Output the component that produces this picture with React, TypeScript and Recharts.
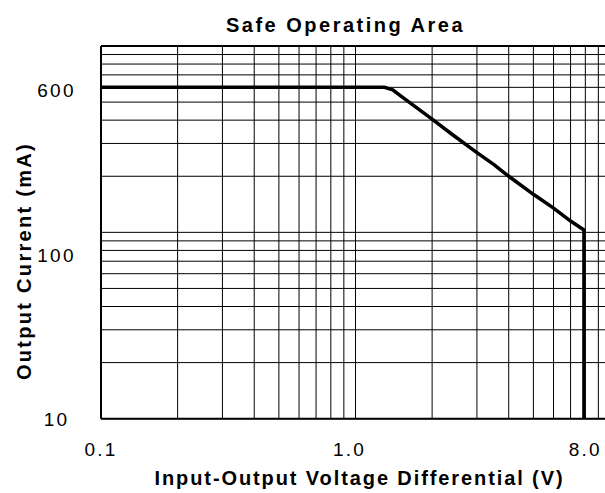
import React from 'react'
import {
  LineChart,
  Line,
  XAxis,
  YAxis,
  CartesianGrid,
  ReferenceLine,
} from 'recharts'

// (log-log)
const voltage = [0.1, 1.3, 1.4, 1.5, 1.7, 2.0, 2.4, 3.0, 3.5, 4.0, 5.0, 6.0, 7.0, 7.9, 7.9]
const current = [600, 600, 582, 541, 477, 405, 335, 268, 231, 200, 160, 135, 115, 103, 10]

const xGrid = [0.1, 0.2, 0.3, 0.4, 0.5, 0.6, 0.7, 0.8, 0.9, 1, 2, 3, 4, 5, 6, 7, 8, 9, 10]
const yGrid = [10, 20, 30, 40, 50, 60, 70, 80, 90, 100, 200, 300, 400, 500, 600, 700, 800, 900, 1000]
const xLabels: Record<number, string> = { 0.1: '0.1', 1: '1.0', 8: '8.0' }
const yLabels: Record<number, string> = { 10: '10', 100: '100', 600: '600' }

const data = voltage.map((v, i) => ({ v, i: current[i] }))

const FONT = '"Liberation Sans", Arial, sans-serif'

function XTick(props: any) {
  const { x, y, payload } = props
  const label = xLabels[payload.value]
  if (!label) return null
  const dx = payload.value === 1 ? -6 : 0
  return (
    <text x={x + dx} y={y + 31} textAnchor="middle" dominantBaseline="central"
      fontFamily={FONT} fontSize={19} letterSpacing={2.2} fill="#000">
      {label}
    </text>
  )
}

function YTick(props: any) {
  const { x, y, payload } = props
  const label = yLabels[payload.value]
  if (!label) return null
  // the source chart prints "100" a little below its grid line
  const dy = payload.value === 100 ? 23 : payload.value === 600 ? 3 : 1
  return (
    <text x={x - 44.5} y={y + dy} textAnchor="middle" dominantBaseline="central"
      fontFamily={FONT} fontSize={19} letterSpacing={2.2} fill="#000">
      {label}
    </text>
  )
}

export default function App() {
  return (
    <div style={{ position: 'absolute', left: 0, top: 0, width: 605, height: 493, overflow: 'hidden', background: '#fff' }}>
      <div style={{
        position: 'absolute', left: 91, width: 509, top: 11, textAlign: 'center',
        fontFamily: FONT, fontWeight: 'bold', fontSize: 20, letterSpacing: 2.5, lineHeight: '28px',
      }}>
        Safe Operating Area
      </div>
      <LineChart
        width={615}
        height={493}
        data={data}
        margin={{ top: 46, right: 5, left: 0, bottom: 0 }}
      >
        <CartesianGrid stroke="#000" strokeWidth={1} horizontal vertical />
        <XAxis
          dataKey="v"
          type="number"
          scale="log"
          domain={[0.1, 10]}
          ticks={xGrid}
          allowDataOverflow
          height={74.3}
          tickSize={0}
          tickMargin={0}
          tickLine={false}
          axisLine={{ stroke: '#000', strokeWidth: 2 }}
          tick={<XTick />}
          interval={0}
          label={{
            content: ({ viewBox }: any) => (
              <text x={viewBox.x + viewBox.width / 2 + 4} y={478} textAnchor="middle" dominantBaseline="central"
                fontFamily={FONT} fontWeight="bold" fontSize={20} letterSpacing={1.9} fill="#000">
                Input-Output Voltage Differential (V)
              </text>
            ),
          }}
        />
        <YAxis
          dataKey="i"
          type="number"
          scale="log"
          domain={[10, 1000]}
          ticks={yGrid}
          allowDataOverflow
          width={101}
          tickSize={0}
          tickMargin={0}
          tickLine={false}
          axisLine={{ stroke: '#000', strokeWidth: 2 }}
          tick={<YTick />}
          interval={0}
          label={{
            content: () => (
              <text x={24} y={261} transform="rotate(-90 24 261)" textAnchor="middle" dominantBaseline="central"
                fontFamily={FONT} fontWeight="bold" fontSize={20} letterSpacing={2.3} fill="#000">
                Output Current (mA)
              </text>
            ),
          }}
        />
        <ReferenceLine y={1000} stroke="#000" strokeWidth={2} />
        <Line
          type="linear"
          dataKey="i"
          stroke="#000"
          strokeWidth={3.5}
          dot={false}
          isAnimationActive={false}
        />
      </LineChart>
    </div>
  )
}
